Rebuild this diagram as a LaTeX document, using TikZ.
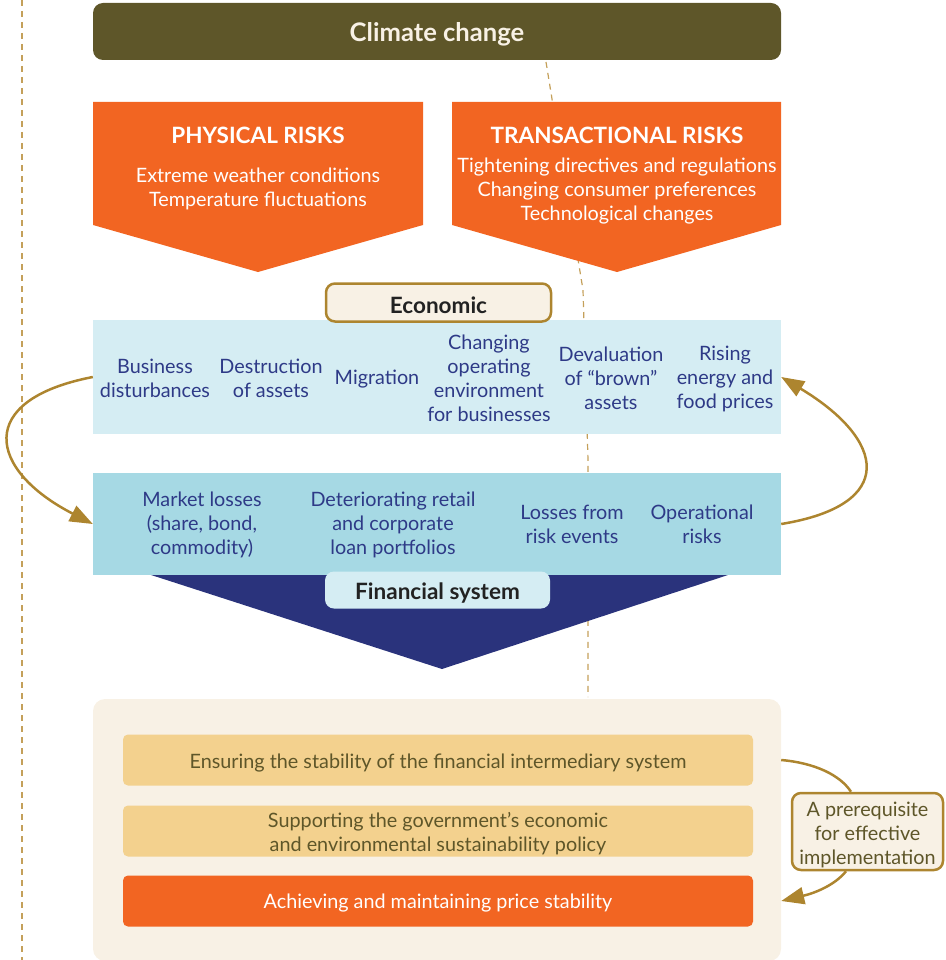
\documentclass[tikz,border=0pt]{standalone}
\usepackage{fontspec}
\setmainfont{Lato}
\usetikzlibrary{arrows.meta,calc}
\definecolor{climate}{HTML}{5E5629}
\definecolor{orng}{HTML}{F26522}
\definecolor{econband}{HTML}{D5EDF3}
\definecolor{finband}{HTML}{A6D9E4}
\definecolor{navy}{HTML}{2A337C}
\definecolor{navytext}{HTML}{2E3A87}
\definecolor{cream}{HTML}{F8F1E5}
\definecolor{tan}{HTML}{F3D18E}
\definecolor{gold}{HTML}{AD852F}
\definecolor{dashgold}{HTML}{C4A05A}
\definecolor{olive}{HTML}{5E5629}
\definecolor{darktext}{HTML}{222222}
\begin{document}
\begin{tikzpicture}[x=1pt,y=-1pt,
  body/.style={font=\fontsize{19.8}{24}\selectfont, align=center, inner sep=0pt},
  item/.style={body, text=navytext},
  whitetxt/.style={body, text=white},
  title/.style={font=\fontsize{22.5}{26}\selectfont\bfseries, text=white, inner sep=0pt},
  lbl/.style={inner sep=0pt, text=darktext, font=\fontsize{22.5}{26}\selectfont\bfseries},
  band/.style={draw=none, inner sep=0pt, minimum width=688pt},
  goalbox/.style={rounded corners=5pt, minimum width=630pt, minimum height=51pt, inner sep=0pt},
  arr/.style={draw=gold, line width=2.5pt, -{Triangle[length=23pt,width=17pt]}},
  conn/.style={draw=gold, line width=2.5pt},
  dashln/.style={draw=dashgold, line width=1.2pt, dash pattern=on 6pt off 5pt}
]
\useasboundingbox (0,0) rectangle (945,960);
% dashed guide lines
\coordinate (dl1) at (22,0);
\coordinate (dl2) at (22,960);
\draw[dashln] (dl1) -- (dl2);
\coordinate (dm1) at (546,62);
\coordinate (dm2) at (583,290);
\coordinate (dm3) at (588,460);
\coordinate (dm4) at (588,697);
\draw[dashln] (dm1) -- (dm2) -- (dm3) -- (dm4);

% climate change
\node[fill=climate, rounded corners=10pt, minimum width=688pt, minimum height=57pt, inner sep=0pt] (climate) at (437,31.5) {};
\node[inner sep=0pt, text=cream, font=\fontsize{25.6}{30}\selectfont\bfseries] (climatetxt) at (437,34.5) {Climate change};

% risk pentagons
\fill[orng] (93,102) -- (423,102) -- (423,225) -- (258,272) -- (93,225) -- cycle;
\fill[orng] (452,102) -- (781,102) -- (781,225) -- (617,272) -- (452,225) -- cycle;
\node[title] (phys) at (258,135) {PHYSICAL RISKS};
\node[whitetxt] (physb) at (258,188.5) {Extreme weather conditions\\Temperature fluctuations};
\node[title] (trans) at (617,135) {TRANSACTIONAL RISKS};
\node[whitetxt] (transb) at (617,191.5) {Tightening directives and regulations\\Changing consumer preferences\\Technological changes};

% economic band
\node[band, fill=econband, minimum height=114pt] (econ) at (437,377) {};
\node[draw=gold, line width=2.5pt, fill=cream, rounded corners=9pt, minimum width=225pt, minimum height=38pt,
  inner sep=0pt] (econlbl) at (438.5,302.5) {};
\node[lbl] (econtxt) at (438.5,305) {Economic};
\node[item] (e1) at (155,378.5) {Business\\disturbances};
\node[item] (e2) at (271,378.5) {Destruction\\of assets};
\node[item] (e3) at (377,379.5) {Migration};
\node[item] (e4) at (489,378.5) {Changing\\operating\\environment\\for businesses};
\node[item] (e5) at (611,378.5) {Devaluation\\of “brown”\\assets};
\node[item] (e6) at (725,378.5) {Rising\\energy and\\food prices};

% financial triangle and band
\fill[navy] (148,574) -- (731,574) -- (442,669) -- cycle;
\node[band, fill=finband, minimum height=102pt] (fin) at (437,524) {};
\node[fill=econband, rounded corners=9pt, minimum width=225pt, minimum height=37pt, inner sep=0pt] (finlbl) at (437.5,590) {};
\node[lbl] (fintxt) at (437.5,593) {Financial system};
\node[item] (f1) at (202,524.5) {Market losses\\(share, bond,\\commodity)};
\node[item] (f2) at (393,524.5) {Deteriorating retail\\and corporate\\loan portfolios};
\node[item] (f3) at (572,524.5) {Losses from\\risk events};
\node[item] (f4) at (702,524.5) {Operational\\risks};

% loop arrows
\draw[arr] (econ.west) .. controls (-26,400) and (-12,470) .. (fin.west);
\draw[arr] (fin.east) .. controls (898,505) and (886,440) .. (econ.east);

% bottom panel
\node[fill=cream, rounded corners=12pt, minimum width=688pt, minimum height=262pt, inner sep=0pt] (panel) at (437,830) {};
\node[goalbox, fill=tan] (g1) at (438,760) {};
\node[goalbox, fill=tan] (g2) at (438,831) {};
\node[goalbox, fill=orng] (g3) at (438,901) {};
\node[body, text=olive] (g1t) at (438,763) {Ensuring the stability of the financial intermediary system};
\node[body, text=olive] (g2t) at (438,833.5) {Supporting the government’s economic\\and environmental sustainability policy};
\node[body, text=white] (g3t) at (438,903.5) {Achieving and maintaining price stability};

% prerequisite
\node[draw=gold, line width=2.5pt, fill=cream, rounded corners=9pt, minimum width=151pt, minimum height=77pt,
  inner sep=0pt] (pre) at (867.5,831.5) {};
\node[body, text=olive] (pret) at (867.5,835) {A prerequisite\\for effective\\implementation};
\coordinate (p1) at (panel.east |- g1.east);
\coordinate (p2) at (panel.east |- g3.east);
\draw[conn] (p1) .. controls (815,763) and (840,775) .. (pre.north -| 851,0);
\draw[arr] (pre.south -| 846,0) .. controls (835,885) and (815,893) .. (p2);
\end{tikzpicture}
\end{document}
